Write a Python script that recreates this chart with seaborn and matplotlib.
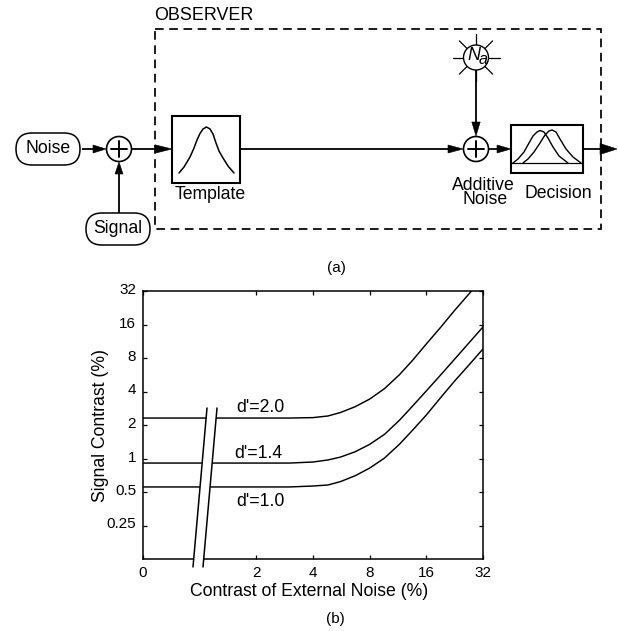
import matplotlib
matplotlib.use("Agg")
import matplotlib.pyplot as plt
from matplotlib.patches import Circle, FancyBboxPatch, Polygon, Rectangle
from matplotlib.transforms import ScaledTranslation
import numpy as np
import pandas as pd
import seaborn as sns

# ---- data ----
noise_contrast = [0.5, 1, 2, 3, 4, 4.8, 5.6, 6.7, 8, 9.6, 11.5, 13.5, 16, 19, 22.6, 26.9, 32]
threshold_d20 = [2.31, 2.31, 2.31, 2.31, 2.33, 2.41, 2.59, 2.92, 3.42, 4.25, 5.65, 7.6, 10.7, 15.0, 21.4, 30, 42]
threshold_d14 = [0.91, 0.91, 0.91, 0.91, 0.93, 0.97, 1.03, 1.15, 1.34, 1.65, 2.2, 2.95, 4.05, 5.6, 7.8, 10.9, 15.2]
threshold_d10 = [0.555, 0.555, 0.555, 0.555, 0.566, 0.578, 0.62, 0.70, 0.82, 1.01, 1.34, 1.79, 2.46, 3.5, 4.96, 6.9, 9.65]
x_ticks = [0.5, 2, 4, 8, 16, 32]
x_tick_labels = ["0", "2", "4", "8", "16", "32"]
y_ticks = [0.25, 0.5, 1, 2, 4, 8, 16, 32]
y_tick_labels = ["0.25", "0.5", "1", "2", "4", "8", "16", "32"]
series_names = ["d'=2.0", "d'=1.4", "d'=1.0"]

W, H = 618, 631
FS = 12.7
sns.set_style("ticks")
plt.rcParams["font.family"] = ["Liberation Sans", "DejaVu Sans"]
plt.rcParams["text.color"] = "black"

fig = plt.figure(figsize=(W / 100, H / 100), dpi=100, facecolor="white")

# ---- panel (b) ----
L, R, T, B = 143, 483, 291, 559
ax = fig.add_axes([L / W, 1 - B / H, (R - L) / W, (B - T) / H])
df = pd.DataFrame({
    "noise": noise_contrast * 3,
    "threshold": threshold_d20 + threshold_d14 + threshold_d10,
    "curve": [n for n in series_names for _ in noise_contrast],
})
sns.lineplot(data=df, x="noise", y="threshold", hue="curve", units="curve", estimator=None,
             palette=["black"] * 3, linewidth=1.05, legend=False, sort=False, ax=ax)
ax.set_xscale("log", base=2)
ax.set_yscale("log", base=2)
ax.set_xlim(0.5, 32)
ax.set_ylim(0.125, 32)
ax.set_xticks(x_ticks, x_tick_labels)
ax.set_yticks(y_ticks, y_tick_labels)
ax.minorticks_off()
ax.tick_params(which="major", direction="in", length=3.2, width=0.9, top=True, right=True,
               labelsize=11, color="black", labelcolor="black")
ax.tick_params(axis="x", pad=5)
ax.tick_params(axis="y", pad=5)
up = ScaledTranslation(0, 2.5 / 100, fig.dpi_scale_trans)
for lab in ax.get_yticklabels():
    lab.set_transform(lab.get_transform() + up)
for s in ax.spines.values():
    s.set_visible(True)
    s.set_linewidth(1.1)
    s.set_color("black")
ax.set_facecolor("white")
ax.set_xlabel("Contrast of External Noise (%)", fontsize=FS, color="black")
ax.set_ylabel("Signal Contrast (%)", fontsize=FS, color="black")
ax.xaxis.set_label_coords(0.488, -0.122)
ax.xaxis.label.set_va("center")
ax.yaxis.set_label_coords(-0.126, 0.5)
ax.yaxis.label.set_va("center")

# ---- schematic overlay in pixel coordinates ----
ov = fig.add_axes([0, 0, 1, 1], zorder=5)
ov.set_xlim(0, W)
ov.set_ylim(H, 0)
ov.axis("off")
ov.patch.set_alpha(0)
LW = 1.3


def line(xs, ys, lw=LW, **kw):
    ov.plot(xs, ys, color="black", lw=lw, solid_capstyle="butt", clip_on=False, **kw)


def head(tipx, tipy, dx, dy, length=14, half=4.5):
    bx, by = tipx - dx * length, tipy - dy * length
    nx, ny = -dy, dx
    ov.add_patch(Polygon([(tipx, tipy), (bx + nx * half, by + ny * half), (bx - nx * half, by - ny * half)],
                         closed=True, fc="black", ec="black", lw=0.4, zorder=4))


def plus(cx, cy, r=12.5):
    ov.add_patch(Circle((cx, cy), r, fc="white", ec="black", lw=1.2, zorder=3))
    ov.plot([cx - r * 0.62, cx + r * 0.62], [cy, cy], color="black", lw=1.4, zorder=4)
    ov.plot([cx, cx], [cy - r * 0.62, cy + r * 0.62], color="black", lw=1.4, zorder=4)


def pill(x0, x1, y0, y1, label):
    rad = (y1 - y0) / 2
    ov.add_patch(FancyBboxPatch((x0 + rad, y0 + rad), x1 - x0 - 2 * rad, 0,
                                boxstyle=f"round,pad={rad},rounding_size={rad}",
                                fc="white", ec="black", lw=1.1, zorder=3))
    ov.text((x0 + x1) / 2, (y0 + y1) / 2 - 0.5, label, ha="center", va="center", fontsize=FS, zorder=4)


# dashed observer box
ov.add_patch(Rectangle((154.5, 29), 446, 200, fc="none", ec="black", lw=1.25, ls=(0, (5, 3.2)), zorder=1))
ov.text(154, 15.5, "OBSERVER", ha="left", va="center", fontsize=12.9)

# inputs
pill(16, 80, 133, 165, "Noise")
pill(86, 150, 213, 245, "Signal")
plus(119, 149)
line([82, 100], [149, 149])
head(106, 149, 1, 0, length=13, half=4)
line([119, 119], [213, 172])
head(119, 162, 0, -1, length=12, half=4)
line([131, 160], [149, 149])
head(172, 149, 1, 0, length=17, half=4.2)

# template
ov.add_patch(Rectangle((172, 116), 67.5, 67, fc="white", ec="black", lw=1.5, zorder=3))
tx = [179, 184, 190, 194, 197, 200, 203, 206.5, 210, 213, 216, 219, 223, 228, 234]
ty = [173, 167, 157, 148, 140, 133.5, 129, 127, 129, 134, 143, 151, 158, 166, 173]
ov.plot(tx, ty, color="black", lw=1.1, zorder=4)
ov.text(210.5, 194.5, "Template", ha="center", va="center", fontsize=FS)

# main path
line([240, 452], [149, 149])
head(463, 149, 1, 0, length=15, half=4)
plus(476, 149)
line([489, 500], [149, 149])
head(511, 149, 1, 0, length=14, half=4)

# decision
ov.add_patch(Rectangle((511, 125), 72, 48, fc="white", ec="black", lw=1.5, zorder=3))
ov.plot([511, 583], [163, 163], color="black", lw=0.9, zorder=4)
c1x = [513, 518, 524, 529, 533, 537, 540, 544, 548, 553, 559, 568]
c1y = [163, 159, 152, 143, 136, 132, 130.5, 132, 138, 147, 156, 163]
c2x = [523, 528, 534, 540, 545, 549, 552, 556, 560, 566, 573, 581]
c2y = [163, 159, 152, 143, 135, 131, 130, 132, 139, 149, 157, 163]
ov.plot(c1x, c1y, color="black", lw=1.0, zorder=4)
ov.plot(c2x, c2y, color="black", lw=1.0, zorder=4)
ov.text(558, 194, "Decision", ha="center", va="center", fontsize=FS)
ov.text(483.5, 185, "Additive", ha="center", va="center", fontsize=FS)
ov.text(485, 199.5, "Noise", ha="center", va="center", fontsize=FS)
line([583, 604], [149, 149])
head(617, 149, 1, 0, length=17, half=5.5)

# internal noise source
nx, ny = 476, 57.5
for a in np.deg2rad(np.arange(0, 360, 45)):
    ov.plot([nx + 12.5 * np.cos(a), nx + 23.5 * np.cos(a)], [ny + 12.5 * np.sin(a), ny + 23.5 * np.sin(a)],
            color="black", lw=0.9, zorder=2)
ov.add_patch(Circle((nx, ny), 12.5, fc="white", ec="black", lw=1.0, zorder=3))
ov.text(474, 56, "N", style="italic", ha="center", va="center", fontsize=13, zorder=4)
ov.text(483.5, 60, "a", style="italic", ha="center", va="center", fontsize=11.5, zorder=4)
line([476, 476], [70, 125])
head(476, 136, 0, 1, length=14, half=4.2)

# panel letters
ov.text(336, 268, "(a)", ha="center", va="center", fontsize=11)
ov.text(335, 619, "(b)", ha="center", va="center", fontsize=11)

# axis break
ov.add_patch(Polygon([(193, 567), (207, 408), (217, 408), (203, 567)], closed=True, fc="white", ec="none", zorder=2))
ov.plot([193, 207], [567, 408], color="black", lw=1.1, zorder=3)
ov.plot([203, 217], [567, 408], color="black", lw=1.1, zorder=3)

# curve labels
ov.text(260, 408, series_names[0], ha="center", va="center", fontsize=FS)
ov.text(258, 454, series_names[1], ha="center", va="center", fontsize=FS)
ov.text(260, 501, series_names[2], ha="center", va="center", fontsize=FS)

fig.savefig("out.png", dpi=100, facecolor="white")
